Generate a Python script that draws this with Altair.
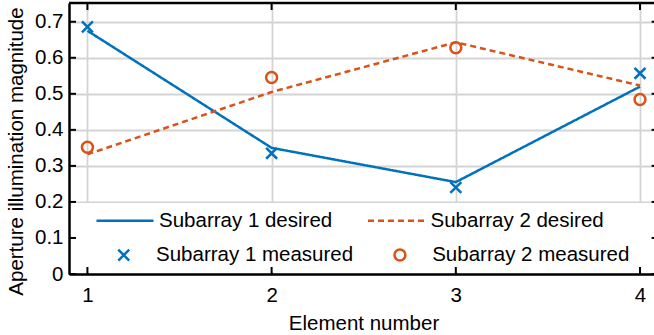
import altair as alt
import pandas as pd

# ---- data ----
elements = [1, 2, 3, 4]
sub1_desired = [0.675, 0.350, 0.255, 0.520]
sub2_desired = [0.332, 0.505, 0.643, 0.523]
sub1_measured = [0.686, 0.335, 0.240, 0.557]
sub2_measured = [0.352, 0.545, 0.628, 0.484]
desired_names = ["Subarray 1 desired", "Subarray 2 desired"]
measured_names = ["Subarray 1 measured", "Subarray 2 measured"]
x_ticks = [1, 2, 3, 4]
y_ticks = [0, 0.1, 0.2, 0.3, 0.4, 0.5, 0.6, 0.7]

BLUE = "#0072BD"
ORANGE = "#D95319"
W, H = 585, 271
FONT = "Liberation Sans"
FS = 20.5
X_MARK = "M-1,-1L1,1M-1,1L1,-1"

rows = []
for name, vals in zip(desired_names + measured_names,
                      [sub1_desired, sub2_desired, sub1_measured, sub2_measured]):
    for e, v in zip(elements, vals):
        rows.append({"element": e, "value": v, "series": name})
df = pd.DataFrame(rows)

xscale = alt.Scale(domain=[0.9, 4.076], nice=False, zero=False)
yscale = alt.Scale(domain=[0, 0.752], nice=False, zero=False)

leg_common = dict(title=None, orient="none", columns=2, padding=0,
                  labelFont=FONT, labelFontSize=FS, labelColor="black", labelLimit=0,
                  symbolStrokeWidth=2.5, symbolOpacity=1)
legend_lines = alt.Legend(legendX=26, legendY=187.5, symbolType="stroke", symbolSize=3249,
                          labelOffset=4, columnPadding=29.5, **leg_common)
legend_points = alt.Legend(legendX=44.5, legendY=241.7, symbolSize=120,
                           symbolOffset=0, labelOffset=22, columnPadding=35.2,
                           symbolFillColor="transparent", **leg_common)

x_axis = alt.Axis(
    values=x_ticks, format="d", title="Element number", grid=True,
    labelPadding=11, labelOverlap=False, titleX=294.5, titleY=55, titleAlign="center",
    titleBaseline="alphabetic")
y_axis = alt.Axis(
    values=y_ticks, format="~g", title="Aperture illumination magnitude", grid=True,
    labelPadding=6, labelOverlap=False, titleX=-52.5, titleY=148, titleAngle=270,
    titleAlign="center", titleBaseline="middle")
x_enc = alt.X("element:Q", scale=xscale, axis=x_axis)
y_enc = alt.Y("value:Q", scale=yscale, axis=y_axis)

bg = alt.Chart(alt.Data(values=[{}])).mark_rect(color="white").encode(
    x=alt.value(2), x2=alt.value(W), y=alt.value(200), y2=alt.value(269))

lines = alt.Chart(df).transform_filter(
    alt.FieldOneOfPredicate(field="series", oneOf=desired_names)
).mark_line(strokeWidth=2.5).encode(
    x=x_enc, y=y_enc,
    color=alt.Color("series:N", scale=alt.Scale(domain=desired_names, range=[BLUE, ORANGE]),
                    legend=legend_lines),
    strokeDash=alt.StrokeDash("series:N", scale=alt.Scale(domain=desired_names, range=[[1, 0], [6, 4]]),
                              legend=legend_lines),
)

points = alt.Chart(df).transform_filter(
    alt.FieldOneOfPredicate(field="series", oneOf=measured_names)
).mark_point(filled=False, strokeWidth=2.5, size=120, opacity=1).encode(
    x=x_enc, y=y_enc,
    color=alt.Color("series:N", scale=alt.Scale(domain=measured_names, range=[BLUE, ORANGE]),
                    legend=legend_points),
    shape=alt.Shape("series:N", scale=alt.Scale(domain=measured_names, range=[X_MARK, "circle"]),
                    legend=legend_points),
)

xt = pd.DataFrame({"element": x_ticks})
yt = pd.DataFrame({"value": y_ticks})
tick_style = dict(color="black", strokeWidth=2)
bottom_ticks = alt.Chart(xt).mark_rule(**tick_style).encode(
    x=x_enc, y=alt.value(H), y2=alt.value(H - 7))
top_ticks = alt.Chart(xt).mark_rule(**tick_style).encode(
    x=x_enc, y=alt.value(0), y2=alt.value(7))
left_ticks = alt.Chart(yt).mark_rule(**tick_style).encode(
    y=y_enc, x=alt.value(0), x2=alt.value(7))
right_ticks = alt.Chart(yt).mark_rule(**tick_style).encode(
    y=y_enc, x=alt.value(W + 4.6), x2=alt.value(W - 2.4))
top_border = alt.Chart(alt.Data(values=[{}])).mark_rule(color="black", strokeWidth=2.5).encode(
    x=alt.value(0), x2=alt.value(W + 5), y=alt.value(0))

chart = alt.layer(
    bg, lines, points, bottom_ticks, top_ticks, left_ticks, right_ticks, top_border
).resolve_scale(
    color="independent", strokeDash="independent", shape="independent"
).properties(
    width=W, height=H,
    autosize=alt.AutoSizeParams(type="none"),
    padding={"left": 69, "top": 3, "right": 0, "bottom": 61},
).configure_view(
    strokeWidth=0
).configure_axis(
    domainColor="black", domainWidth=2.5, gridColor="#d4d4d4", gridWidth=1.8,
    ticks=False, labelFont=FONT, labelFontSize=FS, labelColor="black",
    titleFont=FONT, titleFontSize=FS, titleColor="black", titleFontWeight="normal",
)

chart.save("out.html", embed_options={"renderer": "svg", "actions": False})
